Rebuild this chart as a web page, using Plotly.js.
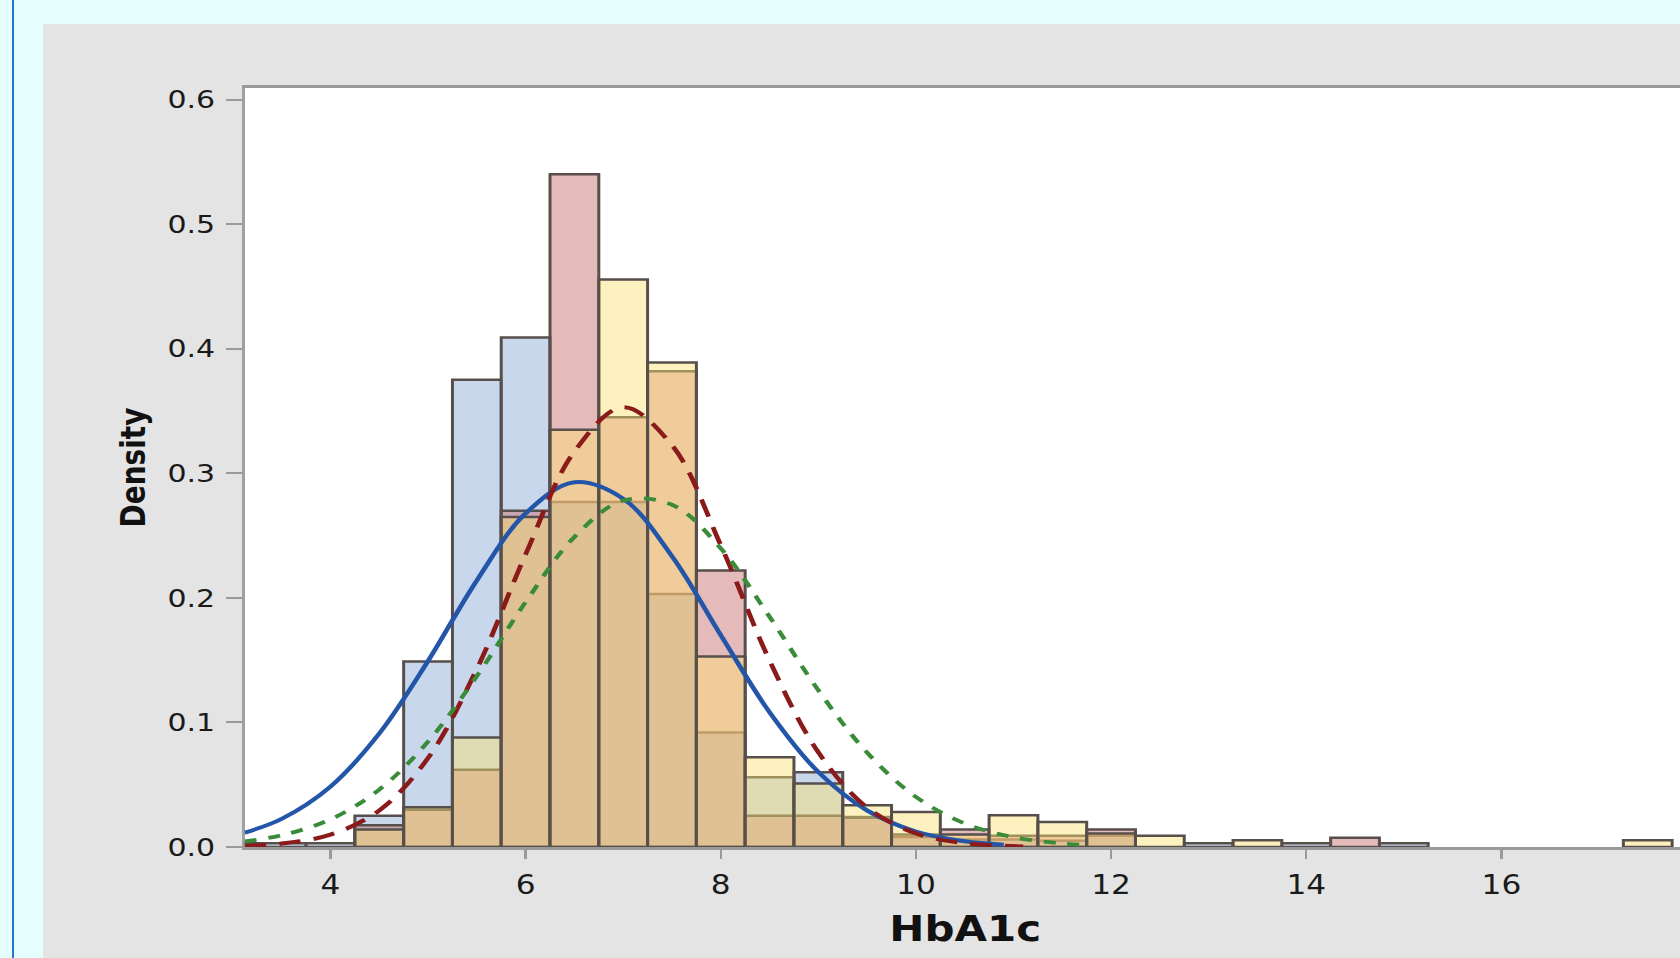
<!DOCTYPE html>
<html>
<head>
<meta charset="utf-8">
<script src="https://cdn.plot.ly/plotly-3.0.1.min.js"></script>
<style>
  html, body { margin:0; padding:0; }
  body { width:1680px; height:958px; overflow:hidden; position:relative; background:#e6fdfd; }
  #edge { position:absolute; left:12px; top:0; width:2px; height:958px; background:#1f7ad0; }
  #panel { position:absolute; left:43px; top:24px; width:1637px; height:934px; overflow:hidden; background:#e4e4e4; }
  #chart { width:1380px; height:934px; transform:scaleX(1.2); transform-origin:0 0; }
</style>
</head>
<body>
<div id="edge"></div>
<div id="panel"><div id="chart"></div></div>
<script>
// Histogram bin centres (bin width 0.5)
const binCenters = [3.0,3.5,4.0,4.5,5.0,5.5,6.0,6.5,7.0,7.5,8.0,8.5,9.0,9.5,10.0,10.5,11.0,11.5,12.0,12.5,13.0,13.5,14.0,14.5,15.0,15.5,16.0,16.5,17.0,17.5];
// Group densities
const blueDensity   = [0.003,0.003,0.003,0.025,0.149,0.375,0.409,0.277,0.277,0.203,0.092,0.056,0.060,0.024,0.008,0.006,0.006,0.005,0.009,null,0.003,null,0.003,null,0.003,null,null,null,null,null];
const redDensity    = [null,null,null,0.0175,0.030,0.062,0.270,0.540,0.345,0.382,0.222,0.025,0.025,0.0235,0.010,0.014,0.009,0.009,0.014,null,null,null,null,0.0075,null,null,null,null,null,null];
const yellowDensity = [null,null,null,0.014,0.032,0.088,0.265,0.335,0.4555,0.389,0.153,0.072,0.051,0.0335,0.028,0.010,0.0254,0.020,0.0108,0.009,null,0.0054,null,null,null,null,null,null,null,0.0054];

// Fitted density curves
const blueCurveX = [3.12,3.5,4,4.5,5,5.5,6,6.5,7,7.5,8,8.5,9,9.5,10,10.5,10.9];
const blueCurveY = [0.0115,0.0226,0.0485,0.0911,0.1493,0.214,0.2678,0.2928,0.2796,0.2334,0.1701,0.1082,0.0602,0.0293,0.0124,0.0046,0.0019];
const redCurveX  = [3.12,3.5,4,4.5,5,5.5,6,6.5,7,7.5,8,8.5,9,9.5,10,10.5,11.1];
const redCurveY  = [0.0009,0.0028,0.0099,0.0294,0.0714,0.1429,0.2349,0.3175,0.3530,0.3225,0.2423,0.1497,0.0760,0.0317,0.0109,0.0031,0.0005];
const greenCurveX = [3.12,3.5,4,4.5,5,5.5,6,6.5,7,7.5,8,8.5,9,9.5,10,10.5,11,11.5,11.8];
const greenCurveY = [0.0045,0.0094,0.0222,0.0461,0.0846,0.1372,0.1966,0.2489,0.2782,0.2748,0.2397,0.1848,0.1258,0.0757,0.0402,0.0189,0.0078,0.0029,0.0015];

const yTickVals = [0,0.1,0.2,0.3,0.4,0.5,0.6];
const yTickText = ['0.0','0.1','0.2','0.3','0.4','0.5','0.6'];
const xTickVals = [4,6,8,10,12,14,16];
const xTickText = ['4','6','8','10','12','14','16'];

const outline = {color:'#574f4b', width:2.5};
function bars(y, fill) {
  return {type:'bar', x:binCenters, y:y, width:0.5, marker:{color:fill, line:outline}, hoverinfo:'skip'};
}
const traces = [
  bars(blueDensity,   'rgba(147,175,217,0.5)'),
  bars(redDensity,    'rgba(203,118,118,0.5)'),
  bars(yellowDensity, 'rgba(250,226,112,0.45)'),
  {type:'scatter', mode:'lines', x:blueCurveX, y:blueCurveY, line:{color:'#2356a8', width:4, shape:'spline'}, hoverinfo:'skip'},
  {type:'scatter', mode:'lines', x:redCurveX, y:redCurveY, line:{color:'#8b1a1a', width:4, shape:'spline', dash:'18px,11px'}, hoverinfo:'skip'},
  {type:'scatter', mode:'lines', x:greenCurveX, y:greenCurveY, line:{color:'#3a8c3a', width:3.8, shape:'spline', dash:'10px,10px'}, hoverinfo:'skip'}
];

const layout = {
  width:1380, height:934,
  margin:{l:168, r:11, t:64, b:111, pad:0},
  paper_bgcolor:'#e4e4e4', plot_bgcolor:'#ffffff',
  barmode:'overlay', bargap:0, showlegend:false, hovermode:false,
  font:{family:'DejaVu Sans, sans-serif', color:'#1a1a1a'},
  xaxis:{
    range:[3.12,17.89], tickmode:'array', tickvals:xTickVals, ticktext:xTickText,
    ticks:'outside', ticklen:9, tickwidth:2, tickcolor:'#9a9a9a',
    showline:true, linecolor:'#9a9a9a', linewidth:3, mirror:true,
    showgrid:false, zeroline:false, layer:'below traces',
    tickfont:{size:26, color:'#1a1a1a'}, ticklabelstandoff:4,
    title:{text:'HbA1c', font:{size:35, weight:'bold', color:'#111'}, standoff:18},
    automargin:false
  },
  yaxis:{
    range:[0,0.6093], tickmode:'array', tickvals:yTickVals, ticktext:yTickText,
    ticks:'outside', ticklen:13, tickwidth:2, tickcolor:'#9a9a9a',
    showline:true, linecolor:'#a0a0a0', linewidth:2.5,
    showgrid:false, zeroline:false, layer:'below traces',
    tickfont:{size:25, color:'#1a1a1a'}, ticklabelstandoff:4,
    title:{text:'Density', font:{size:28, weight:'bold', color:'#111'}, standoff:10},
    automargin:false
  }
};

Plotly.newPlot('chart', traces, layout, {staticPlot:true, displayModeBar:false});
</script>
</body>
</html>
